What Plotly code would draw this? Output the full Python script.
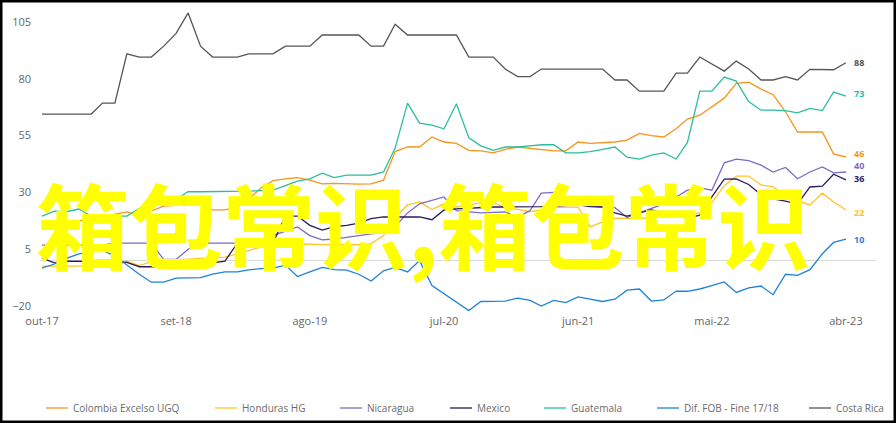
import pandas as pd
import plotly.graph_objects as go

# ---------------- data (monthly, out-17 .. abr-23) ----------------
dates = pd.date_range("2017-10-01", periods=67, freq="MS")

colombia = [17.5, 17, 17, 17.5, 18.5, 19.5, 20.5, 21.4, 19.8, 22, 24, 24.3, 24.5, 24.5, 22.3, 22.3,
            23.5, 27, 32, 35.2, 36, 36.5, 35.4, 33.8, 34, 33.7, 33.7, 33.8, 35.4, 48, 50, 50,
            54.4, 52.2, 51.6, 48.5, 48.3, 47.4, 49, 50, 49.5, 49, 48.3, 48.3, 52.2, 51.6, 52, 52.2,
            53, 56, 55, 54.4, 58, 62.3, 64, 67.5, 71.5, 78, 78.5, 75.5, 73, 65.5, 56.6, 56.6,
            56.6, 47, 45.6]
honduras = [-2.4, -2.4, -2.4, -2.4, -2.4, -2.4, -2.4, -0.3, -2.2, -0.5, 0, 0.3, 0.6, 0.9, 1.2, 1.5,
            3, 4.5, 6, 7.5, 7.5, 7.5, 7.2, 7, 7, 7, 7, 7.5, 11, 19, 24.5, 25.8,
            22.5, 25, 23.6, 24.5, 25.5, 25.5, 23.3, 22.5, 21.5, 22.3, 23.3, 23.5, 23.5, 14.8, 17, 18.7,
            18.5, 18.5, 19, 19.5, 19.5, 19.8, 21, 25.5, 33, 37.2, 37.2, 33.3, 32.5, 28.5, 26.5, 24.5,
            29.7, 25.8, 22.3]
nicaragua = [6.8, 6.8, 6.8, 6.8, 6.8, 6.8, 7.7, 7.7, 7.7, 7.7, 0.5, 0.5, 5, 7.7, 7.7, 7.7,
             7.7, 7.7, 8.5, 11, 13, 14.8, 11, 9.1, 9.5, 10.4, 11, 11.8, 12.2, 15, 21, 25,
             26.6, 28, 22, 21.5, 21, 21.2, 21.4, 19, 22, 29.7, 30, 27, 25, 24, 23.6, 23.3,
             19, 21, 23, 25, 28, 31, 32, 31, 43, 44.7, 44, 42, 39, 41, 36, 39,
             41.2, 38.6, 39]
mexico = [1.1, -1, -0.2, -0.2, -0.2, -0.2, -0.3, -0.8, -2.7, -2.7, -2.7, -2.7, -2.7, -2.7, -1, -0.2,
          7.7, 7.7, 7.7, 7.7, 19.6, 19.6, 15.5, 13.4, 15, 15.5, 16.5, 18.5, 19.2, 19.2, 19.2, 19.2,
          18, 22.3, 22.8, 23.1, 23.3, 23.6, 23.6, 23.6, 23.6, 23.8, 24, 24.3, 24.5, 23.8, 23.6, 21,
          19.6, 21, 22.3, 21, 20, 18.7, 20, 28, 35.9, 36, 33.5, 29, 27.2, 26.2, 24.9, 32.4,
          32.8, 38, 35.5]
guatemala = [19.6, 21.8, 21.5, 22.7, 19.6, 19.6, 19.6, 19.6, 23, 24.5, 25.9, 27, 30.3, 30.3, 30.3, 30.3,
             30.5, 30.6, 30.8, 31, 33, 35, 36, 38.5, 36.5, 37.6, 37.6, 37.6, 39, 49.5, 69.3, 60.5,
             59.6, 58, 69, 54, 50.5, 48.5, 50, 50, 50.5, 51, 51, 47.4, 47.4, 48, 49, 50,
             45.5, 44.7, 46.4, 47.4, 44.7, 52, 74.6, 74.6, 80.8, 79, 70, 66.2, 66.2, 66, 65, 67,
             66, 74.2, 72.4]
dif_fob = [-3.3, -1.5, 1, 3, 3.8, 4.5, 2, -2, -6, -9.5, -9.5, -7.7, -7.7, -7.5, -6, -5,
           -5, -4.1, -3.5, -3.3, -2, -7, -5, -3, -4, -4.2, -6, -9, -4.5, -3, -5, 0,
           -11, -14.5, -18, -22, -18, -17.8, -17.8, -16.5, -17.5, -20, -17.5, -18.5, -16, -17, -18, -17,
           -13, -12.5, -17.8, -17.3, -13.4, -13.5, -12.5, -11, -9.4, -14, -12, -11.2, -15, -6, -6.5, -4,
           3, 8, 9.5]
costa_rica = [64.5, 64.5, 64.5, 64.5, 64.5, 69.3, 69.3, 91, 89.6, 89.6, 94.4, 100, 109, 94.4, 89.6, 89.6,
              89.6, 91, 91, 91, 94.4, 94.4, 94.4, 99.3, 99.3, 99.3, 99.3, 94.4, 94.4, 104, 99.3, 99.3,
              99.3, 99.3, 99.3, 89.6, 89.6, 89.6, 84.3, 81, 81, 84.3, 84.3, 84.3, 84.3, 84.3, 84.3, 79.5,
              79.5, 74.6, 74.6, 74.6, 82.5, 82.5, 89.6, 86.5, 83.4, 87.8, 84.3, 79.5, 79.5, 81, 79.5, 84.2,
              84.2, 84, 87.1]

series_names = ["Colombia Excelso UGQ", "Honduras HG", "Nicaragua", "Mexico",
                "Guatemala", "Dif. FOB - Fine 17/18", "Costa Rica"]
series_values = [colombia, honduras, nicaragua, mexico, guatemala, dif_fob, costa_rica]
end_labels = ["46", "22", "40", "36", "73", "10", "88"]

tick_dates = ["2017-10-01", "2018-09-01", "2019-08-01", "2020-07-01",
              "2021-06-01", "2022-05-01", "2023-04-01"]
tick_text = ["out-17", "set-18", "ago-19", "jul-20", "jun-21", "mai-22", "abr-23"]
y_ticks = [-20, 5, 30, 55, 80, 105]

watermark = "箱包常识,箱包常识"

# ---------------- styles ----------------
colors = ["#F7941D", "#FFC425", "#7E6BC4", "#2B1A5C", "#2BBE9E", "#1E82DA", "#555555"]
label_yshift = [4, -3, 6, 1, 3, 0, 0]

W, H = 896, 423
L, R, T, B = 40, 20, 4, 112
PW, PH = W - L - R, H - T - B

def pxx(px):
    return (px - L) / PW

def pxy(py):
    return 1 - (py - T) / PH

FONT = "Open Sans"

fig = go.Figure()
for name, vals, col in zip(series_names, series_values, colors):
    fig.add_trace(go.Scatter(x=dates, y=vals, mode="lines", name=name,
                             line=dict(color=col, width=1.3), showlegend=False,
                             hoverinfo="skip"))

annotations = []
# end labels
for vals, col, lab, ys in zip(series_values, colors, end_labels, label_yshift):
    annotations.append(dict(x=dates[-1], y=vals[-1], xref="x", yref="y", text="<b>" + lab + "</b>",
                            showarrow=False, xanchor="left", yanchor="middle", xshift=7, yshift=ys,
                            borderpad=0,
                            font=dict(family=FONT, size=9, color=col)))

# manual legend
legend_x = [46, 215, 340, 450, 544, 657, 809]
legend_y = 408
shapes = []
for name, col, lx in zip(series_names, colors, legend_x):
    shapes.append(dict(type="line", xref="paper", yref="paper",
                       x0=pxx(lx), x1=pxx(lx + 22), y0=pxy(legend_y), y1=pxy(legend_y),
                       line=dict(color=col, width=1.3)))
    annotations.append(dict(x=pxx(lx + 25), y=pxy(legend_y), xref="paper", yref="paper",
                            text=name, showarrow=False, xanchor="left", yanchor="middle",
                            font=dict(family=FONT, size=10, color="#6b6b6b")))

# watermark text
annotations.append(dict(x=pxx(423), y=pxy(222), xref="paper", yref="paper", text=watermark,
                        showarrow=False, xanchor="center", yanchor="middle",
                        font=dict(family="Noto Sans CJK SC", size=93, color="#FFFF00", weight="bold")))

# black frame
shapes.append(dict(type="rect", xref="paper", yref="paper",
                   x0=pxx(0), x1=pxx(W), y0=pxy(H), y1=pxy(0),
                   line=dict(color="black", width=5), fillcolor="rgba(0,0,0,0)"))

y_top = (260.6 - T) / 2.272
y_bot = (260.6 - (H - B)) / 2.272

fig.update_layout(
    width=W, height=H,
    margin=dict(l=L, r=R, t=T, b=B, pad=0),
    paper_bgcolor="white", plot_bgcolor="white",
    showlegend=False,
    annotations=annotations, shapes=shapes,
    xaxis=dict(range=["2017-09-26", "2023-06-15"], tickvals=tick_dates, ticktext=tick_text,
               showgrid=False, zeroline=False, showline=False, ticks="",
               tickfont=dict(family=FONT, size=11, color="#666666"), ticklabelstandoff=2),
    yaxis=dict(range=[y_bot, y_top], tickvals=y_ticks, showgrid=False,
               zeroline=True, zerolinecolor="#D9D9D9", zerolinewidth=1, showline=False, ticks="",
               tickfont=dict(family=FONT, size=11, color="#666666"), ticklabelstandoff=8),
)

fig.write_html("out.html", config={"displayModeBar": False},
               post_script="document.body.style.margin='0';document.body.style.overflow='hidden';")
